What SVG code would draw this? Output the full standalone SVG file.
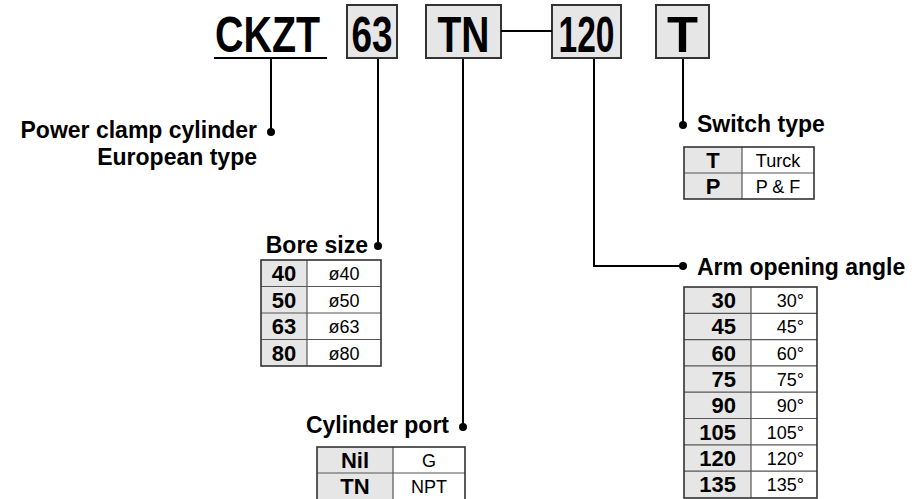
<svg xmlns="http://www.w3.org/2000/svg" width="915" height="499" viewBox="0 0 915 499">
<style>
.hdr{font-family:"Liberation Sans",Arial,sans-serif;font-weight:bold;font-size:50px;fill:#000}
.box{fill:#e6e6e6;stroke:#333;stroke-width:2}
.lbl{font-family:"Liberation Sans",Arial,sans-serif;font-weight:bold;font-size:23px;fill:#000}
.key{font-family:"Liberation Sans",Arial,sans-serif;font-weight:bold;font-size:22px;fill:#000}
.val{font-family:"Liberation Sans",Arial,sans-serif;font-size:18px;fill:#000}
.kc{fill:#e6e6e6}
.vc{fill:#fff}
.tb{fill:none;stroke:#333;stroke-width:1.6}
.gl{stroke:#555;stroke-width:1.2}
.con{fill:none;stroke:#000;stroke-width:2}
.dot{fill:#000}
</style>
<rect width="915" height="499" fill="#fff"/>

<g id="header">
  <g id="h-ckzt">
    <text class="hdr" x="215" y="52" textLength="105" lengthAdjust="spacingAndGlyphs">CKZT</text>
    <line x1="214" y1="58" x2="327" y2="58" stroke="#000" stroke-width="2"/>
  </g>
  <g id="h-63">
    <rect class="box" x="347" y="5" width="50" height="53"/>
    <text class="hdr" x="372" y="52" text-anchor="middle" textLength="41" lengthAdjust="spacingAndGlyphs">63</text>
  </g>
  <g id="h-tn">
    <rect class="box" x="426" y="5" width="75" height="53"/>
    <text class="hdr" x="463.5" y="52" text-anchor="middle" textLength="52" lengthAdjust="spacingAndGlyphs">TN</text>
  </g>
  <g id="h-120">
    <rect class="box" x="552" y="5" width="69" height="53"/>
    <text class="hdr" x="586.5" y="52" text-anchor="middle" textLength="56" lengthAdjust="spacingAndGlyphs">120</text>
  </g>
  <g id="h-t">
    <rect class="box" x="656" y="5" width="53" height="53"/>
    <text class="hdr" x="682.5" y="52" text-anchor="middle" textLength="31" lengthAdjust="spacingAndGlyphs">T</text>
  </g>
</g>

<g id="connectors">
  <line class="con" x1="501" y1="31" x2="552" y2="31"/>
  <line class="con" x1="271" y1="59" x2="271" y2="132"/>
  <circle class="dot" cx="271" cy="132" r="4"/>
  <line class="con" x1="378" y1="59" x2="378" y2="246"/>
  <circle class="dot" cx="378" cy="246" r="4"/>
  <line class="con" x1="463" y1="59" x2="463" y2="427"/>
  <circle class="dot" cx="463" cy="427" r="4"/>
  <path class="con" d="M594 59 V266 H683"/>
  <circle class="dot" cx="683" cy="266" r="4"/>
  <line class="con" x1="683" y1="59" x2="683" y2="125"/>
  <circle class="dot" cx="683" cy="125" r="4"/>
</g>

<g id="model">
  <text class="lbl" x="257" y="138" text-anchor="end">Power clamp cylinder</text>
  <text class="lbl" x="257" y="165" text-anchor="end">European type</text>
</g>

<g id="switch-type">
  <text class="lbl" x="697" y="132">Switch type</text>
  <rect class="kc" x="684" y="147" width="58" height="52"/>
  <rect class="vc" x="742" y="147" width="72" height="52"/>
  <line class="gl" x1="684" y1="173" x2="814" y2="173"/>
  <line class="gl" x1="742" y1="147" x2="742" y2="199"/>
  <rect class="tb" x="684" y="147" width="130" height="52"/>
  <text class="key" x="713" y="168" text-anchor="middle">T</text>
  <text class="val" x="778" y="167" text-anchor="middle">Turck</text>
  <text class="key" x="713" y="194" text-anchor="middle">P</text>
  <text class="val" x="778" y="193" text-anchor="middle">P &amp; F</text>
</g>

<g id="bore-size">
  <text class="lbl" x="368" y="253" text-anchor="end">Bore size</text>
  <rect class="kc" x="261" y="260" width="46" height="106"/>
  <rect class="vc" x="307" y="260" width="74" height="106"/>
  <line class="gl" x1="261" y1="286.5" x2="381" y2="286.5"/>
  <line class="gl" x1="261" y1="313" x2="381" y2="313"/>
  <line class="gl" x1="261" y1="339.5" x2="381" y2="339.5"/>
  <line class="gl" x1="307" y1="260" x2="307" y2="366"/>
  <rect class="tb" x="261" y="260" width="120" height="106"/>
  <text class="key" x="284" y="281" text-anchor="middle">40</text>
  <text class="val" x="344" y="280" text-anchor="middle">ø40</text>
  <text class="key" x="284" y="307.5" text-anchor="middle">50</text>
  <text class="val" x="344" y="306.5" text-anchor="middle">ø50</text>
  <text class="key" x="284" y="334" text-anchor="middle">63</text>
  <text class="val" x="344" y="333" text-anchor="middle">ø63</text>
  <text class="key" x="284" y="360.5" text-anchor="middle">80</text>
  <text class="val" x="344" y="359.5" text-anchor="middle">ø80</text>
</g>

<g id="cylinder-port">
  <text class="lbl" x="449" y="433" text-anchor="end">Cylinder port</text>
  <rect class="kc" x="317" y="447" width="76" height="52"/>
  <rect class="vc" x="393" y="447" width="72" height="52"/>
  <line class="gl" x1="317" y1="473" x2="465" y2="473"/>
  <line class="gl" x1="393" y1="447" x2="393" y2="499"/>
  <rect class="tb" x="317" y="447" width="148" height="53"/>
  <text class="key" x="355" y="468" text-anchor="middle">Nil</text>
  <text class="val" x="429" y="467" text-anchor="middle">G</text>
  <text class="key" x="355" y="494" text-anchor="middle">TN</text>
  <text class="val" x="429" y="493" text-anchor="middle">NPT</text>
</g>

<g id="arm-angle">
  <text class="lbl" x="697" y="275">Arm opening angle</text>
  <rect class="kc" x="684" y="287" width="67" height="211"/>
  <rect class="vc" x="751" y="287" width="66" height="211"/>
  <g class="gl">
    <line x1="684" y1="313.3" x2="817" y2="313.3"/>
    <line x1="684" y1="339.6" x2="817" y2="339.6"/>
    <line x1="684" y1="365.9" x2="817" y2="365.9"/>
    <line x1="684" y1="392.2" x2="817" y2="392.2"/>
    <line x1="684" y1="418.5" x2="817" y2="418.5"/>
    <line x1="684" y1="444.8" x2="817" y2="444.8"/>
    <line x1="684" y1="471.1" x2="817" y2="471.1"/>
    <line x1="751" y1="287" x2="751" y2="498"/>
  </g>
  <rect class="tb" x="684" y="287" width="133" height="211"/>
  <g class="key" text-anchor="end">
    <text x="736" y="308">30</text>
    <text x="736" y="334.3">45</text>
    <text x="736" y="360.6">60</text>
    <text x="736" y="386.9">75</text>
    <text x="736" y="413.2">90</text>
    <text x="736" y="439.5">105</text>
    <text x="736" y="465.8">120</text>
    <text x="736" y="492.1">135</text>
  </g>
  <g class="val" text-anchor="end">
    <text x="804" y="307">30°</text>
    <text x="804" y="333.3">45°</text>
    <text x="804" y="359.6">60°</text>
    <text x="804" y="385.9">75°</text>
    <text x="804" y="412.2">90°</text>
    <text x="804" y="438.5">105°</text>
    <text x="804" y="464.8">120°</text>
    <text x="804" y="491.1">135°</text>
  </g>
</g>
</svg>
